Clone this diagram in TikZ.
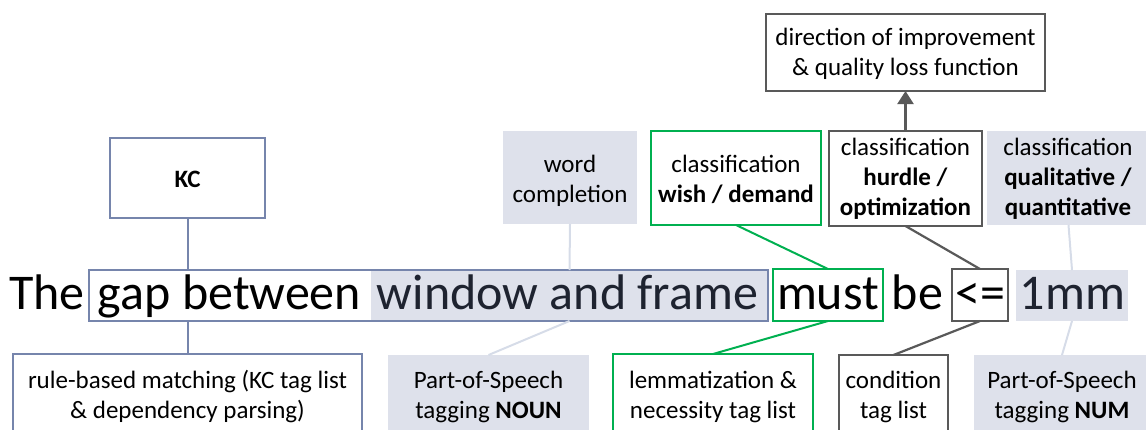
\documentclass[tikz,border=0pt]{standalone}
\usepackage{fontspec}
\setmainfont{Carlito}
\usetikzlibrary{arrows.meta}
\definecolor{bgray}{RGB}{118,133,172}
\definecolor{fillg}{RGB}{222,225,235}
\definecolor{lconn}{RGB}{214,220,232}
\definecolor{grn}{RGB}{0,176,80}
\definecolor{dgray}{RGB}{89,89,89}
\definecolor{navy}{RGB}{30,35,48}
\newcommand{\mylines}[1]{\begin{tabular}[t]{@{}c@{}}#1\end{tabular}}
\tikzset{
  bx/.style={rectangle, inner sep=0pt, outer sep=0pt, line width=2pt},
  bluebox/.style={bx, draw=bgray, fill=white},
  greenbox/.style={bx, draw=grn},
  graybox/.style={bx, draw=dgray},
  fillbox/.style={bx, fill=fillg},
  small/.style={inner sep=0pt, anchor=base, font=\fontsize{25}{30}\selectfont},
  big/.style={inner sep=0pt, anchor=base, font=\fontsize{50}{60}\selectfont},
  bconn/.style={draw=bgray, line width=2pt},
  gconn/.style={draw=grn, line width=2pt},
  dconn/.style={draw=dgray, line width=2.2pt},
  lconnst/.style={draw=lconn, line width=2pt},
}
\begin{document}
\begin{tikzpicture}[x=1pt,y=-1pt]
\useasboundingbox (0,0) rectangle (1146,429);
\clip (0,0) rectangle (1146,429);
% top boxes
\node[bluebox, minimum width=155pt, minimum height=80pt] (kc) at (187.5,178) {};
\node[graybox, minimum width=279pt, minimum height=77pt] (dir) at (905.5,52.5) {};
\node[fillbox, minimum width=134pt, minimum height=93pt] (wc) at (570,177.5) {};
\node[greenbox, minimum width=170pt, minimum height=94pt] (wish) at (736,178) {};
\node[graybox, minimum width=153pt, minimum height=95pt] (hurdle) at (905.5,178.5) {};
\node[fillbox, minimum width=163pt, minimum height=94pt] (qual) at (1068.5,178) {};
% sentence boxes
\node[fillbox, minimum width=397pt, minimum height=51pt] (win) at (569.5,295.5) {};
\node[bx, draw=bgray, minimum width=679pt, minimum height=51pt] (gap) at (428.5,295.5) {};
\node[greenbox, minimum width=110pt, minimum height=52pt] (must) at (828,295) {};
\node[graybox, minimum width=56pt, minimum height=52pt] (le) at (980,295) {};
\node[fillbox, minimum width=112pt, minimum height=51pt] (mm) at (1072,295.5) {};
% bottom boxes
\node[bluebox, minimum width=349pt, minimum height=96pt] (rule) at (187.5,402) {};
\node[fillbox, minimum width=201pt, minimum height=95pt] (posnoun) at (488.5,402.5) {};
\node[greenbox, minimum width=200pt, minimum height=96pt] (lemma) at (713,402) {};
\node[graybox, minimum width=109pt, minimum height=95pt] (cond) at (893.5,402.5) {};
\node[fillbox, minimum width=176pt, minimum height=95pt] (posnum) at (1062,402.5) {};
% connectors
\draw[bconn] (kc.south) -- (kc.south |- gap.north);
\draw[bconn] (rule.north |- gap.south) -- (rule.north);
\draw[lconnst] (wc.south) -- (win.north);
\draw[lconnst] (win.south) -- (posnoun.north);
\draw[gconn] (wish.south) -- (must.north);
\draw[gconn] (must.south) -- (lemma.north);
\draw[dconn, -{Triangle[length=13pt,width=16pt]}] (hurdle.north) -- (dir.south);
\draw[dconn] (hurdle.south) -- (le.north);
\draw[dconn] (le.south) -- (cond.north);
\draw[lconnst] (qual.south) -- (mm.north);
\draw[lconnst] (mm.south) -- (posnum.north);
% texts top
\node[small, font=\fontsize{25}{30}\selectfont\bfseries] (tkc) at (187.5,187) {KC};
\node[small] (tdir) at (905.5,45) {\mylines{direction of improvement\\ \& quality loss function}};
\node[small] (twc) at (570,172) {\mylines{word\\ completion}};
\node[small] (twish) at (736,172) {\mylines{classification\\ \textbf{wish / demand}}};
\node[small] (thurdle) at (905.5,155) {\mylines{classification\\ \textbf{hurdle /}\\ \textbf{optimization}}};
\node[small] (tqual) at (1068,155) {\mylines{classification\\ \textbf{qualitative /}\\ \textbf{quantitative}}};
% sentence
\node[big] (wthe) at (47,309) {The};
\node[big] (wgap) at (229.5,309) {gap between};
\node[big, text=navy] (wwin) at (567.5,309) {window and frame};
\node[big] (wmust) at (828,309) {must};
\node[big] (wbe) at (917.5,309) {be};
\node[big] (wle) at (980.5,309) {<=};
\node[big, text=navy] (wmm) at (1072.5,309) {1mm};
% texts bottom
\node[small] (trule) at (187.5,388) {\mylines{rule-based matching (KC tag list\\ \& dependency parsing)}};
\node[small] (tposnoun) at (488.5,388) {\mylines{Part-of-Speech\\ tagging \textbf{NOUN}}};
\node[small] (tlemma) at (713,388) {\mylines{lemmatization \&\\ necessity tag list}};
\node[small] (tcond) at (893.5,388) {\mylines{condition\\ tag list}};
\node[small] (tposnum) at (1062,388) {\mylines{Part-of-Speech\\ tagging \textbf{NUM}}};
\end{tikzpicture}
\end{document}
